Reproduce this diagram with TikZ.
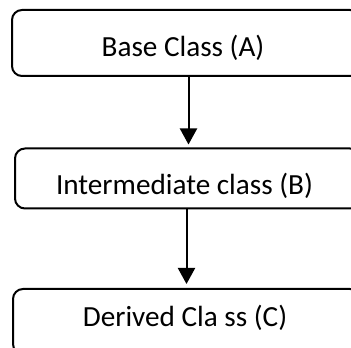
\documentclass[tikz,border=0pt]{standalone}
\usepackage{fontspec}
\setmainfont{Carlito}
\usetikzlibrary{arrows.meta}
\begin{document}
\begin{tikzpicture}[x=1pt,y=1pt,
  classbox/.style={draw=black,line width=2pt,rounded corners=10pt,rectangle,inner sep=0pt},
  classtext/.style={anchor=base,inner sep=0pt,font=\fontsize{29.2}{33}\selectfont},
  arr/.style={draw=black,line width=2pt,-{Triangle[width=17pt,length=16pt]}}]
\useasboundingbox (0,0) rectangle (351,348);
\clip (0,0) rectangle (351,348);
\node[classbox,minimum width=348pt,minimum height=66pt] (boxA) at (186,305) {};
\node[classbox,minimum width=345pt,minimum height=60pt] (boxB) at (187.5,169.5) {};
\node[classbox,minimum width=347pt,minimum height=65pt] (boxC) at (186.5,26.5) {};
\node[classtext] (textA) at (183,291) {Base Class (A)};
\node[classtext] (textB) at (184.5,153) {Intermediate class (B)};
\node[classtext] (textC) at (185,21) {Derived Cla ss (C)};
\coordinate (a1) at (188.5,0);
\coordinate (a2) at (186.5,0);
\draw[arr,shorten >=3pt] (boxA.south -| a1) -- (boxB.north -| a1);
\draw[arr,shorten >=4pt] (boxB.south -| a2) -- (boxC.north -| a2);
\end{tikzpicture}
\end{document}
